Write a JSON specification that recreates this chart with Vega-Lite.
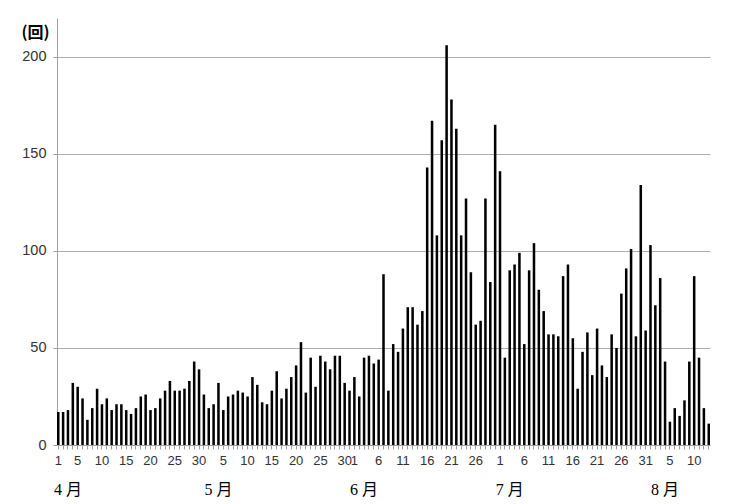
{
  "$schema": "https://vega.github.io/schema/vega-lite/v6.json",
  "width": 653,
  "height": 427,
  "autosize": {"type": "none"},
  "padding": {"left": 57, "top": 18, "right": 23, "bottom": 59},
  "background": "white",
  "config": {"view": {"stroke": null}},
  "data": {
    "values": [
      {"d": "4/1", "v": 17}, {"d": "4/2", "v": 17}, {"d": "4/3", "v": 18}, {"d": "4/4", "v": 32}, {"d": "4/5", "v": 30},
      {"d": "4/6", "v": 24}, {"d": "4/7", "v": 13}, {"d": "4/8", "v": 19}, {"d": "4/9", "v": 29}, {"d": "4/10", "v": 21},
      {"d": "4/11", "v": 24}, {"d": "4/12", "v": 18}, {"d": "4/13", "v": 21}, {"d": "4/14", "v": 21}, {"d": "4/15", "v": 18},
      {"d": "4/16", "v": 16}, {"d": "4/17", "v": 19}, {"d": "4/18", "v": 25}, {"d": "4/19", "v": 26}, {"d": "4/20", "v": 18},
      {"d": "4/21", "v": 19}, {"d": "4/22", "v": 24}, {"d": "4/23", "v": 28}, {"d": "4/24", "v": 33}, {"d": "4/25", "v": 28},
      {"d": "4/26", "v": 28}, {"d": "4/27", "v": 29}, {"d": "4/28", "v": 33}, {"d": "4/29", "v": 43}, {"d": "4/30", "v": 39},
      {"d": "5/1", "v": 26}, {"d": "5/2", "v": 19}, {"d": "5/3", "v": 21}, {"d": "5/4", "v": 32}, {"d": "5/5", "v": 18},
      {"d": "5/6", "v": 25}, {"d": "5/7", "v": 26}, {"d": "5/8", "v": 28}, {"d": "5/9", "v": 27}, {"d": "5/10", "v": 25},
      {"d": "5/11", "v": 35}, {"d": "5/12", "v": 31}, {"d": "5/13", "v": 22}, {"d": "5/14", "v": 21}, {"d": "5/15", "v": 28},
      {"d": "5/16", "v": 38}, {"d": "5/17", "v": 24}, {"d": "5/18", "v": 29}, {"d": "5/19", "v": 35}, {"d": "5/20", "v": 41},
      {"d": "5/21", "v": 53}, {"d": "5/22", "v": 27}, {"d": "5/23", "v": 45}, {"d": "5/24", "v": 30}, {"d": "5/25", "v": 46},
      {"d": "5/26", "v": 43}, {"d": "5/27", "v": 39}, {"d": "5/28", "v": 46}, {"d": "5/29", "v": 46}, {"d": "5/30", "v": 32},
      {"d": "5/31", "v": 28},
      {"d": "6/1", "v": 35}, {"d": "6/2", "v": 25}, {"d": "6/3", "v": 45}, {"d": "6/4", "v": 46}, {"d": "6/5", "v": 42},
      {"d": "6/6", "v": 44}, {"d": "6/7", "v": 88}, {"d": "6/8", "v": 28}, {"d": "6/9", "v": 52}, {"d": "6/10", "v": 48},
      {"d": "6/11", "v": 60}, {"d": "6/12", "v": 71}, {"d": "6/13", "v": 71}, {"d": "6/14", "v": 62}, {"d": "6/15", "v": 69},
      {"d": "6/16", "v": 143}, {"d": "6/17", "v": 167}, {"d": "6/18", "v": 108}, {"d": "6/19", "v": 157}, {"d": "6/20", "v": 206},
      {"d": "6/21", "v": 178}, {"d": "6/22", "v": 163}, {"d": "6/23", "v": 108}, {"d": "6/24", "v": 127}, {"d": "6/25", "v": 89},
      {"d": "6/26", "v": 62}, {"d": "6/27", "v": 64}, {"d": "6/28", "v": 127}, {"d": "6/29", "v": 84}, {"d": "6/30", "v": 165},
      {"d": "7/1", "v": 141}, {"d": "7/2", "v": 45}, {"d": "7/3", "v": 90}, {"d": "7/4", "v": 93}, {"d": "7/5", "v": 99},
      {"d": "7/6", "v": 52}, {"d": "7/7", "v": 90}, {"d": "7/8", "v": 104}, {"d": "7/9", "v": 80}, {"d": "7/10", "v": 69},
      {"d": "7/11", "v": 57}, {"d": "7/12", "v": 57}, {"d": "7/13", "v": 56}, {"d": "7/14", "v": 87}, {"d": "7/15", "v": 93},
      {"d": "7/16", "v": 55}, {"d": "7/17", "v": 29}, {"d": "7/18", "v": 48}, {"d": "7/19", "v": 58}, {"d": "7/20", "v": 36},
      {"d": "7/21", "v": 60}, {"d": "7/22", "v": 41}, {"d": "7/23", "v": 35}, {"d": "7/24", "v": 57}, {"d": "7/25", "v": 50},
      {"d": "7/26", "v": 78}, {"d": "7/27", "v": 91}, {"d": "7/28", "v": 101}, {"d": "7/29", "v": 56}, {"d": "7/30", "v": 134},
      {"d": "7/31", "v": 59},
      {"d": "8/1", "v": 103}, {"d": "8/2", "v": 72}, {"d": "8/3", "v": 86}, {"d": "8/4", "v": 43}, {"d": "8/5", "v": 12},
      {"d": "8/6", "v": 19}, {"d": "8/7", "v": 15}, {"d": "8/8", "v": 23}, {"d": "8/9", "v": 43}, {"d": "8/10", "v": 87},
      {"d": "8/11", "v": 45}, {"d": "8/12", "v": 19}, {"d": "8/13", "v": 11}
    ]
  },
  "mark": {"type": "bar", "color": "#000000"},
  "encoding": {
    "x": {
      "field": "d",
      "type": "ordinal",
      "sort": null,
      "scale": {"paddingInner": 0.48, "paddingOuter": 0},
      "axis": {
        "title": null,
        "grid": false,
        "domain": true,
        "domainColor": "#a0a0a0",
        "ticks": true,
        "tickSize": 4,
        "tickColor": "#a0a0a0",
        "labelAngle": 0,
        "labelOverlap": false,
        "labelExpr": "indexof(['4/3','5/4','6/3','7/3','8/4'], datum.value) >= 0 ? (split(datum.value,'/')[0] + ' 月') : (indexof(['4/1','4/5','4/10','4/15','4/20','4/25','4/30','5/5','5/10','5/15','5/20','5/25','5/30','6/1','6/6','6/11','6/16','6/21','6/26','7/1','7/6','7/11','7/16','7/21','7/26','7/31','8/5','8/10'], datum.value) >= 0 ? split(datum.value,'/')[1] : '')",
        "labelPadding": {"condition": {"test": "indexof(['4/3','5/4','6/3','7/3','8/4'], datum.value) >= 0", "value": 32}, "value": 5},
        "labelFont": {"condition": {"test": "indexof(['4/3','5/4','6/3','7/3','8/4'], datum.value) >= 0", "value": "Liberation Serif, Noto Sans CJK JP"}, "value": "Liberation Sans"},
        "labelFontSize": {"condition": {"test": "indexof(['4/3','5/4','6/3','7/3','8/4'], datum.value) >= 0", "value": 16}, "value": 13},
        "labelColor": {"condition": {"test": "indexof(['4/3','5/4','6/3','7/3','8/4'], datum.value) >= 0", "value": "#000000"}, "value": "#333333"}
      }
    },
    "y": {
      "field": "v",
      "type": "quantitative",
      "scale": {"domain": [0, 220], "nice": false},
      "axis": {
        "values": [0, 50, 100, 150, 200],
        "grid": true,
        "gridColor": "#aeaeae",
        "gridWidth": 1,
        "domain": true,
        "domainColor": "#a0a0a0",
        "tickColor": "#a0a0a0",
        "tickSize": 4,
        "labelPadding": 7,
        "labelFont": "Liberation Sans",
        "labelFontSize": 14.5,
        "labelColor": "#333333",
        "title": "(回)",
        "titleFont": "Noto Sans CJK JP",
        "titleFontSize": 16,
        "titleFontWeight": "bold",
        "titleColor": "#000000",
        "titleAngle": 0,
        "titleAlign": "center",
        "titleBaseline": "middle",
        "titleX": -22,
        "titleY": 14
      }
    }
  }
}
